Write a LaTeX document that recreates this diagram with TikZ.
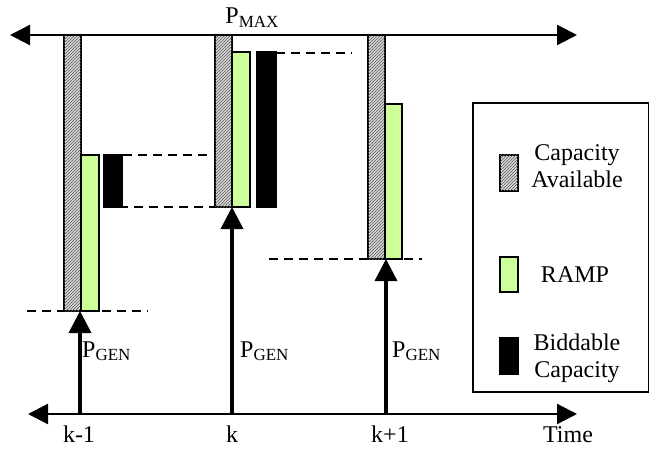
\documentclass[tikz,border=0pt]{standalone}
\usepackage{fontspec}
\setmainfont{Liberation Serif}
\usetikzlibrary{arrows.meta,patterns}
\definecolor{rampgreen}{rgb}{0.8,1,0.6}
\newcommand{\lowtxt}[1]{\raisebox{-0.35ex}{\fontsize{17}{17}\selectfont #1}}

\begin{document}
\begin{tikzpicture}
  [x=1pt,y=-1pt,
   txtN/.style={font=\fontsize{24}{28}\selectfont,inner sep=0pt,anchor=base},
   capBar/.style={draw,line width=1.5pt,fill=gray!30,
                  postaction={pattern=north east lines,pattern color=gray!70!black}},
   rampBar/.style={draw,line width=1.5pt,fill=rampgreen},
   bidBar/.style={draw,line width=1.5pt,fill=black},
   axisL/.style={line width=2.3pt,
                 {Triangle[length=20pt,width=20pt]}-{Triangle[length=20pt,width=20pt]}},
   genA/.style={line width=3.5pt,-{Triangle[length=22pt,width=22pt]}},
   lvlL/.style={line width=2.3pt,dash pattern=on 9pt off 6pt},
  ]
 \useasboundingbox (0,0) rectangle (650,449);

 \coordinate (pl) at (10,35);   \coordinate (pr) at (577,35);
 \coordinate (tl) at (28,414);  \coordinate (tr) at (577,414);
 \coordinate (t0) at (80,414);  \coordinate (b0) at (80,311);
 \coordinate (t1) at (232,414); \coordinate (b1) at (232,207);
 \coordinate (t2) at (386,414); \coordinate (b2) at (386,259);

 % level lines
 \draw[lvlL] (27,311)  -- (148,311);
 \draw[lvlL] (123,155) -- (212,155);
 \draw[lvlL] (104,207) -- (254,207);
 \draw[lvlL] (276,53)  -- (352,53);
 \draw[lvlL] (269,259) -- (422,259);

 % bars
 \draw[capBar]  (64,35)   rectangle (81,311);
 \draw[rampBar] (81,155)  rectangle (99,311);
 \draw[bidBar]  (104,155) rectangle (122,207);

 \draw[capBar]  (215,35)  rectangle (232,207);
 \draw[rampBar] (232,52)  rectangle (250,207);
 \draw[bidBar]  (257,52)  rectangle (276,207);

 \draw[capBar]  (368,35)  rectangle (385,259);
 \draw[rampBar] (385,104) rectangle (402,259);

 % axes
 \draw[axisL] (pl) -- (pr);
 \draw[axisL] (tl) -- (tr);
 \draw[genA] (t0) -- (b0);
 \draw[genA] (t1) -- (b1);
 \draw[genA] (t2) -- (b2);

 \node[txtN] (pmax) at (252,24) {P\lowtxt{MAX}};
 \node[txtN,anchor=base west] (g0) at (82,357)  {P\lowtxt{GEN}};
 \node[txtN,anchor=base west] (g1) at (240,357) {P\lowtxt{GEN}};
 \node[txtN,anchor=base west] (g2) at (392,357) {P\lowtxt{GEN}};
 \node[txtN] (k0) at (79,442)  {k-1};
 \node[txtN] (k1) at (232,442) {k};
 \node[txtN] (k2) at (390,442) {k+1};
 \node[txtN] (time) at (568,442) {Time};

 % legend
 \draw[line width=1.5pt] (473,103) rectangle (648.5,392);
 \draw[capBar]  (500,155) rectangle (518,191);
 \draw[rampBar] (500,257) rectangle (518,292);
 \draw[bidBar]  (500,338) rectangle (518,374);
 \node[txtN] (capL)  at (577,161) {Capacity};
 \node[txtN] (capL2) at (577,188) {Available};
 \node[txtN] (rampL) at (575,282) {RAMP};
 \node[txtN] (bidL)  at (577,350) {Biddable};
 \node[txtN] (bidL2) at (577,377) {Capacity};

\end{tikzpicture}
\end{document}
